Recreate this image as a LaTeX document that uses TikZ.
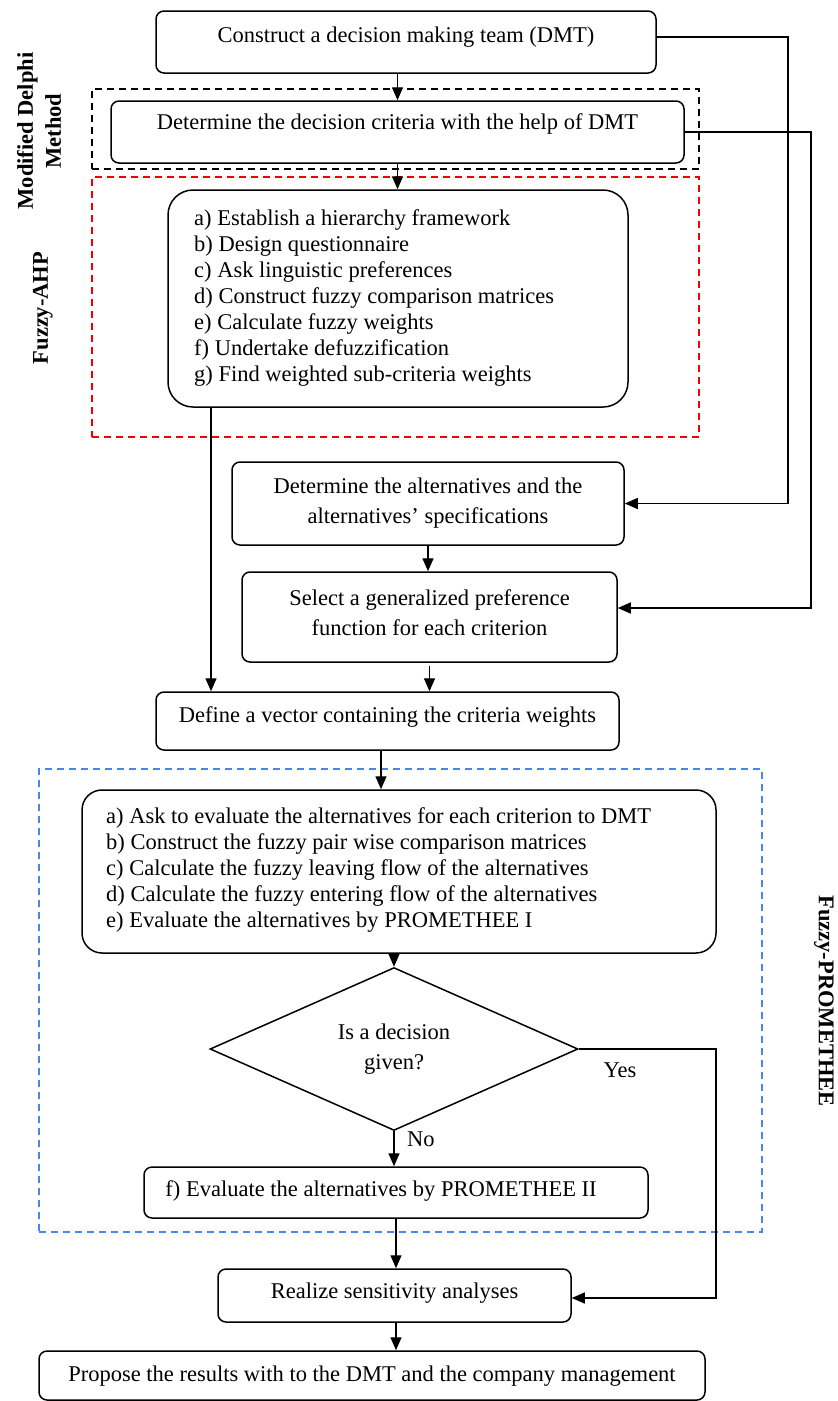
\documentclass[tikz,border=0pt]{standalone}
\usepackage{fontspec}
\setmainfont{Liberation Serif}
\usetikzlibrary{arrows.meta,shapes.geometric}
\definecolor{dblue}{RGB}{74,134,232}
\definecolor{dred}{RGB}{240,0,0}
\tikzset{
 box/.style={draw, line width=1.5pt, rounded corners=8pt, inner sep=0pt},
 bigbox/.style={draw, line width=1.5pt, rounded corners=25pt, inner sep=0pt},
 txt/.style={font=\fontsize{22.5}{26}\selectfont, inner sep=0pt},
 arr/.style={-{Triangle[length=13pt,width=11pt]}, line width=1.4pt},
 lab/.style={font=\bfseries\fontsize{22.5}{28}\selectfont, align=center, inner sep=0pt},
 group/.style={line width=1.3pt, dash pattern=on 7pt off 5pt, inner sep=0pt},
}
\begin{document}
\begin{tikzpicture}[x=1pt,y=-1pt]
\useasboundingbox (0,0) rectangle (838,1401);
% group frames
\node[group, draw=black, minimum width=607, minimum height=80] (mdm) at (395.5,129) {};
\node[group, draw=dred, minimum width=607, minimum height=260] (fahp) at (395.5,307) {};
\node[group, draw=dblue, minimum width=723, minimum height=463] (fprom) at (400.5,1000.5) {};
% group labels
\node[lab, rotate=90] (lmdm) at (39,131) {Modified Delphi\\Method};
\node[lab, rotate=90] (lahp) at (43,308) {Fuzzy-AHP};
\node[lab, rotate=-90] (lprom) at (824,1001) {Fuzzy-PROMETHEE};
% boxes
\node[box, minimum width=500, minimum height=62] (b1) at (406,42) {};
\node[txt] (t1) at (406,37) {Construct a decision making team (DMT)};
\node[box, minimum width=573, minimum height=62] (b2) at (397.5,132) {};
\node[txt] (t2) at (397.5,124) {Determine the decision criteria with the help of DMT};
\node[bigbox, minimum width=460, minimum height=217] (ahp) at (398,298.5) {};
\node[txt, align=left, anchor=west] (ahpt) at (194,298) {a) Establish a hierarchy framework\\b) Design questionnaire\\c) Ask linguistic preferences\\d) Construct fuzzy comparison matrices\\e) Calculate fuzzy weights\\f) Undertake defuzzification\\g) Find weighted sub-criteria weights};
\node[box, minimum width=392, minimum height=83, txt, align=center, inner sep=0pt] (alt) at (428,503.5) {Determine the alternatives and the\\[4pt]alternatives’ specifications};
\node[box, minimum width=375, minimum height=90] (sel) at (429.5,617) {};
\node[txt, align=center] (selt) at (429.5,613) {Select a generalized preference\\[4pt]function for each criterion};
\node[box, minimum width=463, minimum height=58] (def) at (387.5,721) {};
\node[txt] (deft) at (387.5,717) {Define a vector containing the criteria weights};
\node[box, rounded corners=20pt, minimum width=634, minimum height=163] (prom) at (399,871.5) {};
\node[txt, align=left, anchor=west] (promt) at (106,870) {a) Ask to evaluate the alternatives for each criterion to DMT\\b) Construct the fuzzy pair wise comparison matrices\\c) Calculate the fuzzy leaving flow of the alternatives\\d) Calculate the fuzzy entering flow of the alternatives\\e) Evaluate the alternatives by PROMETHEE I};
\node[draw, diamond, line width=1.5pt, minimum width=368, minimum height=134, inner sep=0pt, txt, align=center] (dia) at (394,1049) {Is a decision\\[4pt]given?};
\node[box, minimum width=504, minimum height=51] (fb) at (396,1192.5) {};
\node[txt] (fbt) at (381,1191) {f) Evaluate the alternatives by PROMETHEE II};
\node[box, minimum width=353, minimum height=53] (real) at (394.5,1295.5) {};
\node[txt] (realt) at (394.5,1293) {Realize sensitivity analyses};
\node[box, minimum width=666, minimum height=49] (prop) at (372,1375.5) {};
\node[txt] (propt) at (372,1376) {Propose the results with to the DMT and the company management};
% labels on connectors
\node[txt, anchor=west] (no) at (407,1139) {No};
\node[txt] (yes) at (620,1070) {Yes};
% helper coordinates
\coordinate (lx) at (211,0);
\coordinate (r1) at (788,37);
\coordinate (r2) at (811,0);
\coordinate (dx) at (381,0);
\coordinate (yx) at (716,0);
% connectors
\draw[arr] (b1.south -| b2.north) -- (b2.north);
\draw[arr] (b2.south) -- (b2.south |- ahp.north);
\draw[arr] (ahp.south -| lx) -- (def.north -| lx);
\draw[arr] (b1.east |- r1) -- (r1) |- (alt.east);
\draw[arr] (b2.east) -- (b2.east -| r2) |- ([yshift=9pt]sel.east);
\draw[arr] (alt.south) -- (alt.south |- sel.north);
\draw[arr] ([yshift=-3pt]sel.south) -- (sel.south |- def.north);
\draw[arr] (def.south -| dx) -- (prom.north -| dx);
\draw[arr] (prom.south -| dia.north) -- (dia.north);
\draw[arr] (dia.south) -- (dia.south |- fb.north);
\draw[arr] (dia.east) -- (dia.east -| yx) |- ([yshift=-2.5pt]real.east);
\draw[arr] (fb.south) -- (fb.south |- real.north);
\draw[arr] (real.south -| fb.south) -- (prop.north -| fb.south);
\end{tikzpicture}
\end{document}
